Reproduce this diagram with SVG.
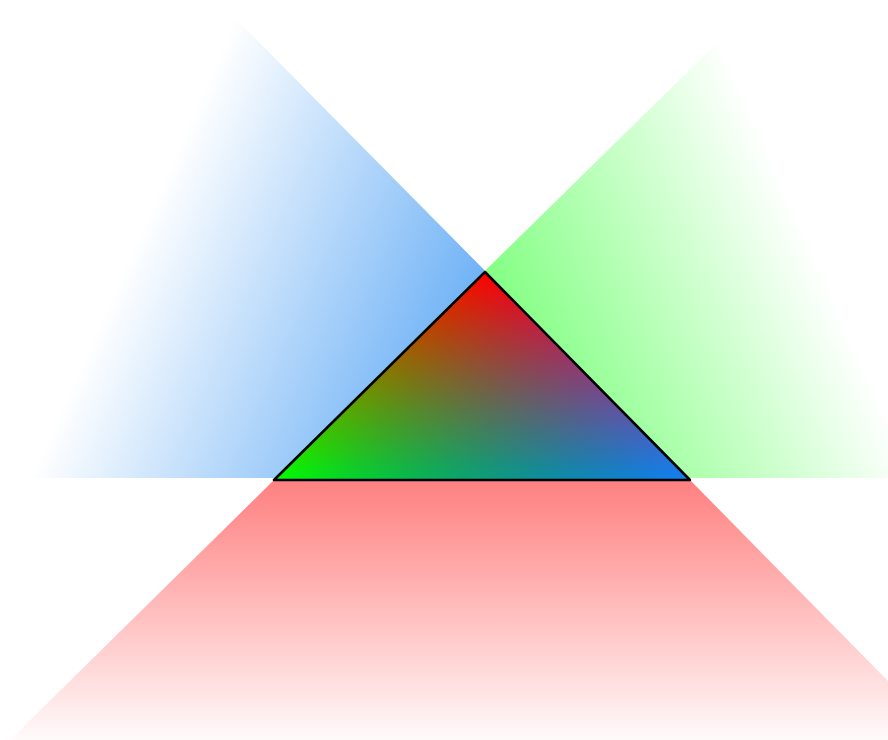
<svg xmlns="http://www.w3.org/2000/svg" width="888" height="740" viewBox="0 0 888 740">
  <defs>
    <linearGradient id="gBlueFan" gradientUnits="userSpaceOnUse" x1="30" y1="478" x2="331" y2="612">
      <stop offset="0" stop-color="#0a7cf0" stop-opacity="0"/>
      <stop offset="1" stop-color="#0a7cf0" stop-opacity="0.58"/>
    </linearGradient>
    <linearGradient id="gGreenFan" gradientUnits="userSpaceOnUse" x1="915" y1="478" x2="614" y2="612">
      <stop offset="0" stop-color="#00ff00" stop-opacity="0"/>
      <stop offset="1" stop-color="#00ff00" stop-opacity="0.52"/>
    </linearGradient>
    <linearGradient id="gRedFan" gradientUnits="userSpaceOnUse" x1="0" y1="480" x2="0" y2="750">
      <stop offset="0" stop-color="#ff0000" stop-opacity="0.5"/>
      <stop offset="1" stop-color="#ff0000" stop-opacity="0"/>
    </linearGradient>
    <linearGradient id="gR" gradientUnits="userSpaceOnUse" x1="485" y1="272" x2="485" y2="480">
      <stop offset="0" stop-color="#ff0000"/>
      <stop offset="1" stop-color="#000000"/>
    </linearGradient>
    <linearGradient id="gG" gradientUnits="userSpaceOnUse" x1="274" y1="480" x2="485" y2="272">
      <stop offset="0" stop-color="#00ff00"/>
      <stop offset="1" stop-color="#000000"/>
    </linearGradient>
    <linearGradient id="gB" gradientUnits="userSpaceOnUse" x1="690" y1="480" x2="485" y2="272">
      <stop offset="0" stop-color="#1080f5"/>
      <stop offset="1" stop-color="#000000"/>
    </linearGradient>
  </defs>
  <style>
    .fan { stroke: none; }
    .blend { mix-blend-mode: screen; }
    .edge { fill: none; stroke: #000; stroke-width: 2.5; stroke-linejoin: round; }
  </style>
  <rect width="888" height="740" fill="#ffffff"/>
  <g id="blue-fan">
    <polygon class="fan" points="235,18 30,478 690,478" fill="url(#gBlueFan)"/>
  </g>
  <g id="green-fan">
    <polygon class="fan" points="720,40 274,478 915,478" fill="url(#gGreenFan)"/>
  </g>
  <g id="red-fan">
    <polygon class="fan" points="274,480 690,480 946,740 10,740" fill="url(#gRedFan)"/>
  </g>
  <g id="main-triangle">
    <g style="isolation:isolate">
      <polygon points="485,272 274,480 690,480" fill="#000"/>
      <polygon class="blend" points="485,272 274,480 690,480" fill="url(#gR)"/>
      <polygon class="blend" points="485,272 274,480 690,480" fill="url(#gG)"/>
      <polygon class="blend" points="485,272 274,480 690,480" fill="url(#gB)"/>
    </g>
    <polygon class="edge" points="485,272 274,480 690,480"/>
  </g>
</svg>
